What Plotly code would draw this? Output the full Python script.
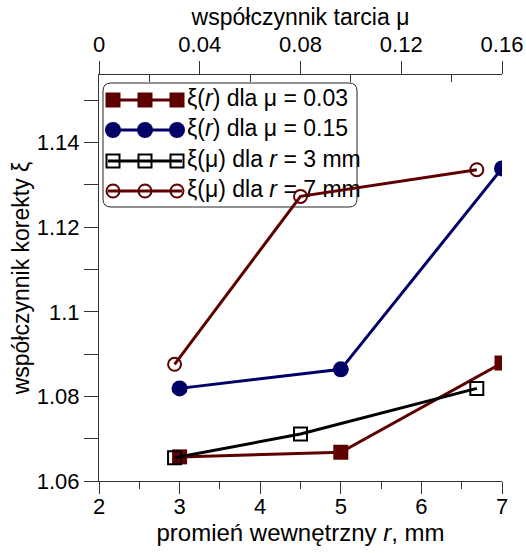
import plotly.graph_objects as go

# ---- data ----
r_vals = [3, 5, 7]
xi_mu003 = [1.0657, 1.0668, 1.0879]
xi_mu015 = [1.0819, 1.0864, 1.1339]
mu_vals = [0.03, 0.08, 0.15]
xi_r3 = [1.0655, 1.0711, 1.0819]
xi_r7 = [1.0876, 1.1273, 1.1336]

x_ticks = [2, 3, 4, 5, 6, 7]
mu_ticks = [0, 0.04, 0.08, 0.12, 0.16]
mu_tick_labels = ["0", "0.04", "0.08", "0.12", "0.16"]
y_ticks = [1.06, 1.08, 1.10, 1.12, 1.14]
y_tick_labels = ["1.06", "1.08", "1.1", "1.12", "1.14"]

names = ["ξ(<i>r</i>) dla μ = 0.03", "ξ(<i>r</i>) dla μ = 0.15",
         "ξ(μ) dla <i>r</i> = 3 mm", "ξ(μ) dla <i>r</i> = 7 mm"]

RED = "#5e0000"
NAVY = "#000066"
BLK = "#000000"
FONT = "Liberation Sans, Arial, sans-serif"
AX = "#333333"

W, H = 526, 553
L, R, T, B = 99, 502, 75, 481
XR = [2, 7]
YR = [1.06, 1.156]


def px2x(px):
    return XR[0] + (px - L) / (R - L) * (XR[1] - XR[0])


def py2y(py):
    return YR[0] + (B - py) / (B - T) * (YR[1] - YR[0])


styles = [
    dict(color=RED, symbol="square", size=15, fill=True),
    dict(color=NAVY, symbol="circle", size=16, fill=True),
    dict(color=BLK, symbol="square-open", size=13, fill=False),
    dict(color=RED, symbol="circle-open", size=13, fill=False),
]


def marker(st):
    if st["fill"]:
        return dict(symbol=st["symbol"], size=st["size"], color=st["color"])
    return dict(symbol=st["symbol"], size=st["size"], color=st["color"],
                line=dict(width=2, color=st["color"]))


fig = go.Figure()

# ---- custom legend (drawn first, below data) ----
rows = [100, 130, 161, 191]
lx = [113, 145, 177]
for i, st in enumerate(styles):
    fig.add_trace(go.Scatter(
        x=[px2x(108), px2x(182)], y=[py2y(rows[i])] * 2, mode="lines",
        line=dict(color=st["color"], width=3), showlegend=False,
        hoverinfo="skip", xaxis="x", yaxis="y"))
    fig.add_trace(go.Scatter(
        x=[px2x(v) for v in lx], y=[py2y(rows[i])] * 3, mode="markers",
        marker=marker(st), showlegend=False, hoverinfo="skip",
        xaxis="x", yaxis="y"))
    fig.add_trace(go.Scatter(
        x=[px2x(187)], y=[py2y(rows[i])], mode="text", text=[names[i]],
        textposition="middle right",
        textfont=dict(family=FONT, size=23, color="#000"),
        showlegend=False, hoverinfo="skip", xaxis="x", yaxis="y"))

# rounded legend box
x0, x1, y0, y1 = px2x(103), px2x(357), py2y(83), py2y(207)
rx = (XR[1] - XR[0]) / (R - L) * 8
ry = (YR[1] - YR[0]) / (B - T) * 8
path = (f"M {x0+rx},{y0} L {x1-rx},{y0} Q {x1},{y0} {x1},{y0-ry} "
        f"L {x1},{y1+ry} Q {x1},{y1} {x1-rx},{y1} L {x0+rx},{y1} "
        f"Q {x0},{y1} {x0},{y1+ry} L {x0},{y0-ry} Q {x0},{y0} {x0+rx},{y0} Z")
fig.add_shape(type="path", path=path, xref="x", yref="y",
              line=dict(color="#222", width=1), fillcolor="white", layer="below")

# ---- data series ----
fig.add_trace(go.Scatter(x=r_vals, y=xi_mu003, mode="lines+markers",
                         line=dict(color=RED, width=3), marker=marker(styles[0]),
                         showlegend=False, xaxis="x", yaxis="y"))
fig.add_trace(go.Scatter(x=r_vals, y=xi_mu015, mode="lines+markers",
                         line=dict(color=NAVY, width=3), marker=marker(styles[1]),
                         showlegend=False, xaxis="x", yaxis="y"))
fig.add_trace(go.Scatter(x=mu_vals, y=xi_r3, mode="lines+markers",
                         line=dict(color=BLK, width=3), marker=marker(styles[2]),
                         showlegend=False, xaxis="x2", yaxis="y"))
fig.add_trace(go.Scatter(x=mu_vals, y=xi_r7, mode="lines+markers",
                         line=dict(color=RED, width=3), marker=marker(styles[3]),
                         showlegend=False, xaxis="x2", yaxis="y"))

tickfont = dict(family=FONT, size=22, color="#000")

fig.update_layout(
    width=W, height=H,
    margin=dict(l=L, r=W - R, t=T, b=H - B, autoexpand=False),
    paper_bgcolor="white", plot_bgcolor="white",
    font=dict(family=FONT),
    xaxis=dict(range=XR, tickvals=x_ticks, ticks="outside", ticklen=12,
               tickwidth=1, tickcolor=AX, showline=True, linecolor=AX,
               linewidth=1, showgrid=False, zeroline=False, automargin=False,
               tickfont=tickfont, ticklabelstandoff=-6,
               minor=dict(tickvals=[2.5, 3.5, 4.5, 5.5, 6.5], ticks="outside",
                          ticklen=7, tickcolor=AX, showgrid=False),
               title=dict(text="promień wewnętrzny <i>r</i>, mm",
                          font=dict(family=FONT, size=24, color="#000"),
                          standoff=0)),
    xaxis2=dict(range=[0, 0.16], overlaying="x", side="top", anchor="y",
                tickvals=mu_ticks, ticktext=mu_tick_labels, ticks="outside",
                ticklen=13, tickwidth=1, tickcolor=AX, showline=True,
                linecolor=AX, linewidth=1, showgrid=False, zeroline=False,
                automargin=False, tickfont=tickfont,
                minor=dict(tickvals=[0.02, 0.06, 0.10, 0.14], ticks="inside",
                           ticklen=7, tickcolor=AX, showgrid=False),
                title=dict(text="współczynnik tarcia μ",
                           font=dict(family=FONT, size=23, color="#000"),
                           standoff=0)),
    yaxis=dict(range=YR, tickvals=y_ticks, ticktext=y_tick_labels,
               ticks="outside", ticklen=14, tickwidth=1, tickcolor=AX,
               showline=True, linecolor=AX, linewidth=1, showgrid=False,
               zeroline=False, automargin=False, tickfont=tickfont,
               minor=dict(tickvals=[1.07, 1.09, 1.11, 1.13, 1.15],
                          ticks="outside", ticklen=14, tickcolor=AX,
                          showgrid=False),
               title=dict(text="współczynnik korekty ξ",
                          font=dict(family=FONT, size=23, color="#000"),
                          standoff=0)),
)

fig.write_html("out.html")
